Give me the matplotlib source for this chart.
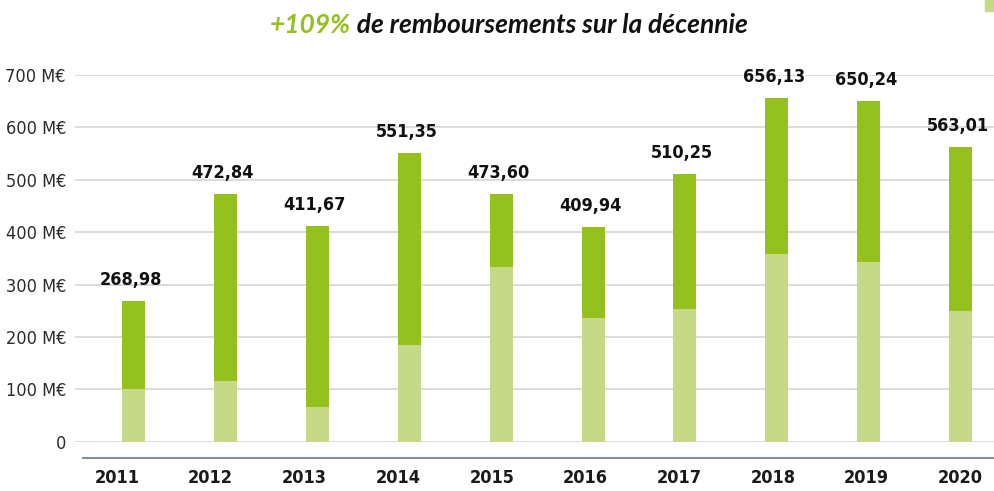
import matplotlib.pyplot as plt
import matplotlib.patches as mpatches
import numpy as np

# data (M€)
years = ['2011', '2012', '2013', '2014', '2015', '2016', '2017', '2018', '2019', '2020']
totals = [268.98, 472.84, 411.67, 551.35, 473.60, 409.94, 510.25, 656.13, 650.24, 563.01]
base_part = [100, 115, 66, 184, 334, 237, 254, 359, 343, 250]
total_labels = ['268,98', '472,84', '411,67', '551,35', '473,60',
                '409,94', '510,25', '656,13', '650,24', '563,01']
y_ticks = [0, 100, 200, 300, 400, 500, 600, 700]
y_tick_labels = ['0', '100 M€', '200 M€', '300 M€', '400 M€', '500 M€', '600 M€', '700 M€']

DARK = '#95c11f'
LIGHT = '#c5d987'
NARROW = dict(family='DejaVu Sans', stretch='condensed')


def main():
    fig = plt.figure(figsize=(9.95, 4.91), dpi=100)
    # axes: left edge at 75px, y=0 at 441.7px, y=700 at 75px
    ax = fig.add_axes([75 / 995, (491 - 441.7) / 491, 920 / 995, (441.7 - 75) / 491])

    x = np.arange(len(years))
    top_part = np.array(totals) - np.array(base_part)
    ax.bar(x, base_part, width=0.25, color=LIGHT, zorder=2)
    ax.bar(x, top_part, width=0.25, bottom=base_part, color=DARK, zorder=2)

    for xi, tot, lab in zip(x, totals, total_labels):
        ax.annotate(lab, (xi, tot), xytext=(-2, 11.5), textcoords='offset points',
                    ha='center', va='baseline', fontsize=13, fontweight='bold',
                    color='#111111', **NARROW)

    ax.set_xlim(-0.637, 9.374)
    ax.set_ylim(0, 700)

    # spines first: moving a spine resets the ticks of its axis
    for s in ['top', 'right', 'left']:
        ax.spines[s].set_visible(False)
    ax.spines['bottom'].set_position(('outward', 11.5))
    ax.spines['bottom'].set_color('#7d8ea0')
    ax.spines['bottom'].set_linewidth(1.5)
    ax.spines['bottom'].set_bounds(-0.55, 9.374)

    ax.tick_params(axis='both', length=0)
    ax.tick_params(axis='y', pad=6.5)
    ax.tick_params(axis='x', pad=8)

    ax.set_yticks(y_ticks)
    ax.set_yticklabels(y_tick_labels, fontsize=13, color='#2b2b2b', **NARROW)
    ax.yaxis.grid(True, color='#d9d9d9', linewidth=1.3, zorder=0)
    ax.set_axisbelow(True)

    # year labels sit on a slightly wider grid than the bars
    ax.set_xticks(x * 1.0196 - 0.18)
    ax.set_xticklabels(years, fontsize=13, fontweight='bold', color='#1a1a1a', **NARROW)

    # title in two colours
    t1 = fig.text(270 / 995, (491 - 33) / 491, '+109%', fontsize=19, fontweight='bold',
                  style='italic', family='Lato', color=DARK, ha='left', va='baseline')
    fig.canvas.draw()
    ax.annotate(' de remboursements sur la décennie', xy=(1, 0), xycoords=t1,
                fontsize=19, fontweight='bold', style='italic', family='Lato',
                color='#111111', ha='left', va='bottom', annotation_clip=False)

    # small marker in the top right corner
    fig.patches.append(mpatches.Rectangle((985.5 / 995, (491 - 11) / 491), 10 / 995, 11 / 491,
                                          transform=fig.transFigure, color=LIGHT))

    fig.savefig('out.png', dpi=100)


if __name__ == '__main__':
    main()
